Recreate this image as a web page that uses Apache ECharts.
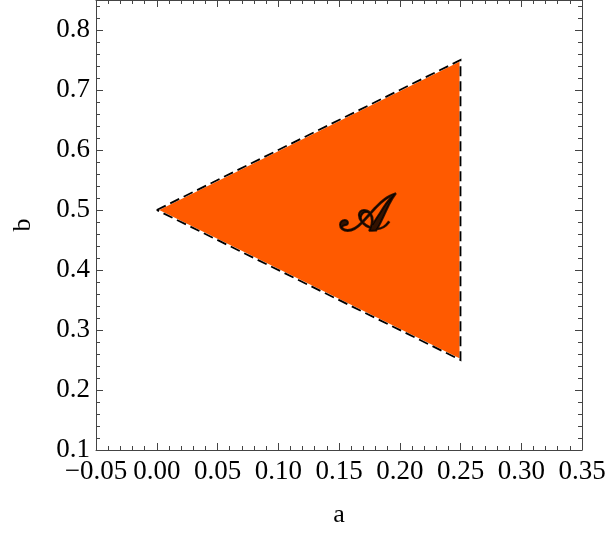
<!DOCTYPE html>
<html>
<head>
<meta charset="utf-8">
<script src="https://cdn.jsdelivr.net/npm/echarts@6/dist/echarts.min.js"></script>
<style>
  html, body { margin: 0; padding: 0; background: #fff; }
  #main { width: 610px; height: 533px; }
</style>
</head>
<body>
<div id="main"></div>
<script>
// region A: triangle vertices (a, b)
var triA = [0, 0.25, 0.25];
var triB = [0.5, 0.75, 0.25];
var regionLabel = '\uD835\uDC9C';
var labelPos = [0.172, 0.488];

var pts = triA.map(function (a, i) { return [a, triB[i]]; });

var FONT = 'Liberation Serif';
var frame = { show: true, onZero: false, lineStyle: { color: '#444', width: 1 } };
var tick = { show: true, inside: true, length: 7, lineStyle: { color: '#444' } };
var minor = { show: true, splitNumber: 5, length: 4, lineStyle: { color: '#444' } };

function fmtX(v) {
  var s = Math.abs(v).toFixed(2);
  return v < -1e-9 ? '\u2212' + s : s;
}
function fmtY(v) {
  var r = Math.round(v * 10) / 10;
  if (Math.abs(r - v) > 1e-6) return '';
  return r.toFixed(1);
}

var myChart = echarts.init(document.getElementById('main'));
myChart.setOption({
  backgroundColor: '#fff',
  animation: false,
  grid: { left: 96, right: 28, top: 0, bottom: 80 },
  xAxis: [
    {
      type: 'value', min: -0.05, max: 0.35, interval: 0.05,
      axisLine: frame, axisTick: tick, minorTick: minor, splitLine: { show: false },
      axisLabel: { formatter: fmtX, color: '#000', fontFamily: FONT, fontSize: 27, margin: 8 },
      name: 'a', nameLocation: 'middle', nameGap: 52,
      nameTextStyle: { color: '#000', fontFamily: FONT, fontSize: 26 }
    },
    {
      type: 'value', position: 'top', min: -0.05, max: 0.35, interval: 0.05,
      axisLine: frame, axisTick: tick, minorTick: minor, splitLine: { show: false },
      axisLabel: { show: false }
    }
  ],
  yAxis: [
    {
      type: 'value', min: 0.1, max: 0.85, interval: 0.1,
      axisLine: frame, axisTick: tick, minorTick: minor, splitLine: { show: false },
      axisLabel: { formatter: fmtY, color: '#000', fontFamily: FONT, fontSize: 27, margin: 6 },
      name: 'b', nameLocation: 'middle', nameGap: 60, nameRotate: 90,
      nameTextStyle: { color: '#000', fontFamily: FONT, fontSize: 26 }
    },
    {
      type: 'value', position: 'right', min: 0.1, max: 0.85, interval: 0.1,
      axisLine: frame, axisTick: tick, minorTick: minor, splitLine: { show: false },
      axisLabel: { show: false }
    }
  ],
  series: [
    {
      type: 'custom',
      data: [0],
      silent: true,
      renderItem: function (params, api) {
        var p = pts.map(function (q) { return api.coord(q); });
        var ring = p.concat([p[0]]);
        return {
          type: 'group',
          children: [
            { type: 'polygon', shape: { points: p }, style: { fill: '#ff5a00' } },
            { type: 'polyline', shape: { points: ring }, style: { fill: null, stroke: '#fff', lineWidth: 2 } },
            { type: 'polyline', shape: { points: ring }, style: { fill: null, stroke: '#000', lineWidth: 1.8, lineDash: [10, 5] } }
          ]
        };
      }
    },
    {
      type: 'scatter', data: [labelPos], symbolSize: 0, silent: true, z: 5,
      label: {
        show: true, position: 'inside', formatter: regionLabel,
        color: '#000', fontSize: 54, fontFamily: 'DejaVu Serif',
        textBorderColor: '#000', textBorderWidth: 2
      }
    }
  ]
});
</script>
</body>
</html>
